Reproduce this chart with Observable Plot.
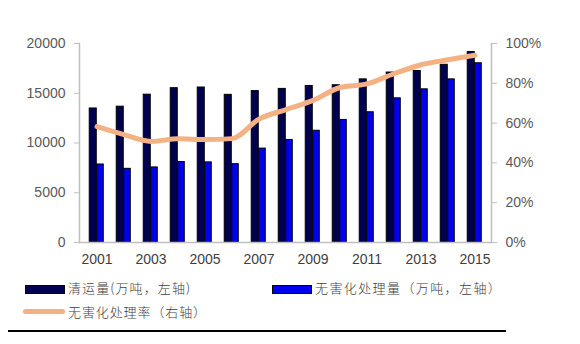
<!DOCTYPE html>
<html><head><meta charset="utf-8">
<script src="https://cdn.jsdelivr.net/npm/d3@7"></script>
<script src="https://cdn.jsdelivr.net/npm/@observablehq/plot@0.6"></script>
<style>
body{margin:0;background:#fff;font-family:Arial,"Liberation Sans","Noto Sans CJK SC",sans-serif;}
#wrap{position:relative;width:580px;height:344px;}
.leg{position:absolute;font-size:13px;color:#404040;font-family:"Noto Sans CJK SC",sans-serif;font-weight:300;white-space:nowrap;line-height:16px;}
.sw{position:absolute;}
#rule{position:absolute;left:8px;top:330px;width:498px;height:2px;background:#000;}
</style></head>
<body><div id="wrap"><div id="chart"></div></div>
<script>
const years = [2001,2002,2003,2004,2005,2006,2007,2008,2009,2010,2011,2012,2013,2014,2015];
const collected = [13470,13650,14857,15509,15577,14841,15215,15438,15734,15805,16395,17081,17239,17860,19142];
const treated = [7840,7404,7545,8089,8051,7873,9438,10307,11232,12318,13090,14490,15394,16394,18013];
const rate = [58.2,54.2,50.8,52.1,51.7,52.2,62.0,66.8,71.4,77.9,79.7,84.8,89.3,91.8,94.1];
const xTicks = [2001,2003,2005,2007,2009,2011,2013,2015];
const leftTicks = [0,5000,10000,15000,20000];
const rightTicks = [0,20,40,60,80,100];
const seriesNames = ["清运量(万吨，左轴)","无害化处理量（万吨，左轴）","无害化处理率（右轴）"];
const colors = ["#000050","#0000ee","#f4b183"];

const rows = years.map((y,i)=>({year:y, collected:collected[i], treated:treated[i], rate:rate[i]}));
const band = (580-79-89)/years.length;

const plot = Plot.plot({
  width:580, height:272,
  marginTop:43, marginBottom:30, marginLeft:79, marginRight:89,
  style:{fontFamily:"Arial, 'Liberation Sans', sans-serif", fontSize:"14px", color:"#595959"},
  x:{type:"band", domain:years, padding:0, axis:null},
  y:{domain:[0,20000], axis:null},
  marks:[
    Plot.barY(rows,{x:"year", y:"collected", fill:colors[0], stroke:"#000", strokeWidth:1, insetLeft:band/2-7.5, insetRight:band/2}),
    Plot.barY(rows,{x:"year", y:"treated", fill:colors[1], stroke:"#000", strokeWidth:1, insetLeft:band/2, insetRight:band/2-7}),
    Plot.ruleY([0],{stroke:"#bfbfbf", strokeWidth:1.5}),
    Plot.frame({anchor:"left", stroke:"#bfbfbf", strokeWidth:1.5}),
    Plot.frame({anchor:"right", stroke:"#bfbfbf", strokeWidth:1.5}),
    Plot.line(rows,{x:"year", y:d=>d.rate*200, stroke:colors[2], strokeWidth:5, curve:"monotone-x"}),
    Plot.axisY({anchor:"left", ticks:leftTicks, tickFormat:d=>String(d), tickSize:5, tickPadding:9, stroke:"#bfbfbf", label:null, fill:"#595959"}),
    Plot.axisY({anchor:"right", ticks:rightTicks.map(v=>v*200), tickFormat:d=>(d/200)+"%", tickSize:5, tickPadding:9, stroke:"#bfbfbf", label:null, fill:"#595959"}),
    Plot.axisX({ticks:xTicks, tickFormat:d=>String(d), tickSize:0, tickPadding:12, label:null, fill:"#404040"})
  ]
});
document.getElementById("chart").appendChild(plot);

const wrap = document.getElementById("wrap");
const items = [
  {sx:25, sy:285, w:38, h:7, kind:"bar", tx:68, ty:280, ls:1.1},
  {sx:272, sy:285, w:38, h:7, kind:"bar", tx:315, ty:280, ls:1.4},
  {sx:23, sy:309, w:42, h:5, kind:"line", tx:68, ty:304, ls:0.9}
];
items.forEach((it,i)=>{
  const s=document.createElement("div");
  s.className="sw";
  s.style.left=it.sx+"px"; s.style.top=it.sy+"px"; s.style.width=it.w+"px"; s.style.height=it.h+"px";
  s.style.background=colors[i];
  if(it.kind==="bar"){s.style.border="1px solid #000";} else {s.style.borderRadius="3px";}
  wrap.appendChild(s);
  const t=document.createElement("div");
  t.className="leg"; t.style.left=it.tx+"px"; t.style.top=it.ty+"px"; t.style.letterSpacing=it.ls+"px";
  t.textContent=seriesNames[i];
  wrap.appendChild(t);
});
const r=document.createElement("div"); r.id="rule"; wrap.appendChild(r);
</script>
</body></html>
